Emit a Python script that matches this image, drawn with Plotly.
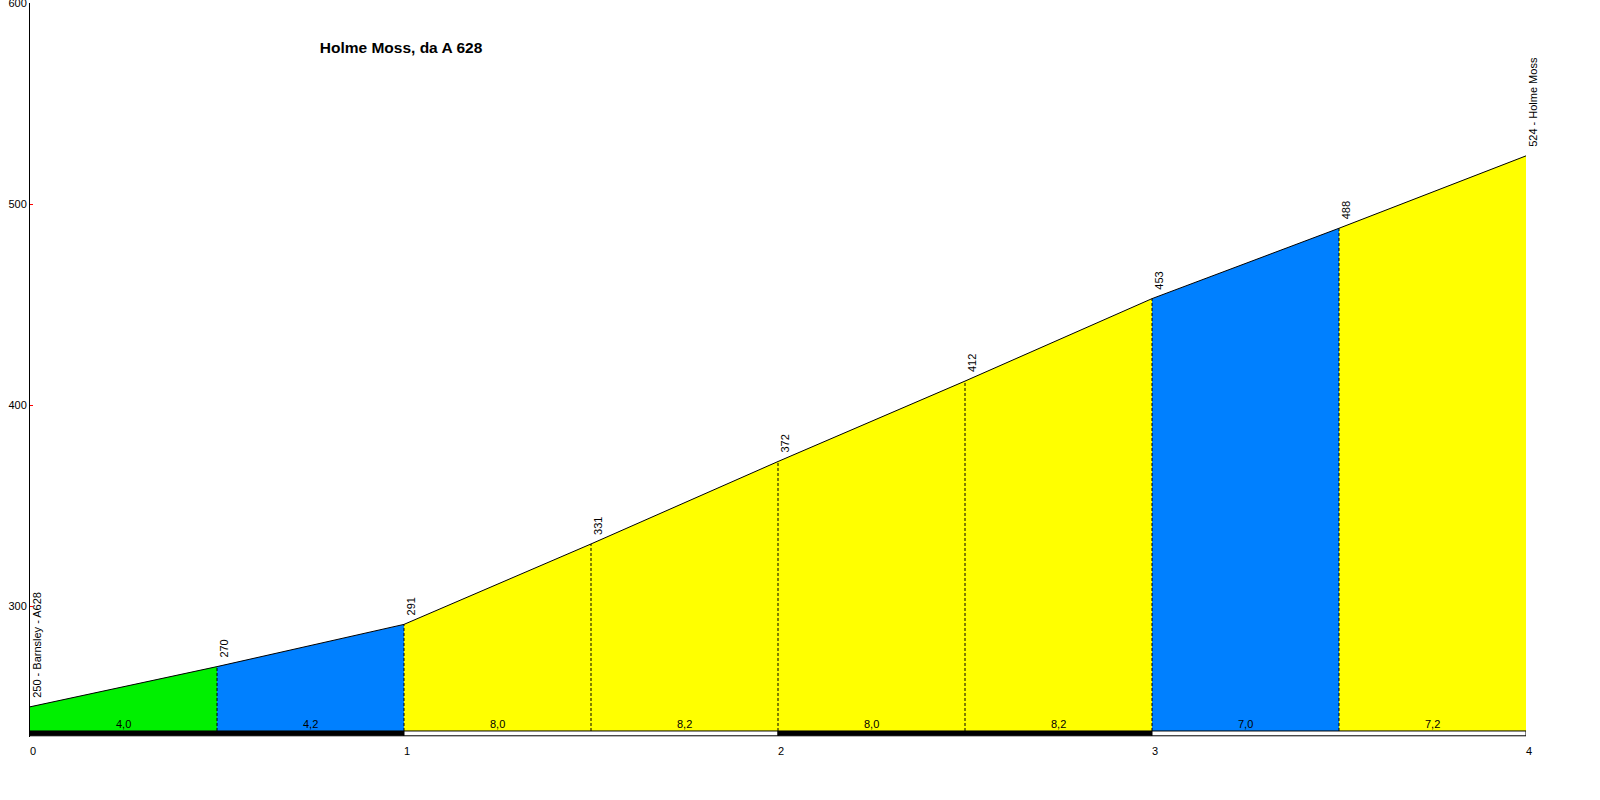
import plotly.graph_objects as go

# ---- data ----
distance_km = [0.0, 0.5, 1.0, 1.5, 2.0, 2.5, 3.0, 3.5, 4.0]
elevation_m = [250, 270, 291, 331, 372, 412, 453, 488, 524]
gradient_pct = [4.0, 4.2, 8.0, 8.2, 8.0, 8.2, 7.0, 7.2]
segment_colors = ["#00f000", "#0080ff", "#ffff00", "#ffff00",
                  "#ffff00", "#ffff00", "#0080ff", "#ffff00"]
point_names = {0: "Barnsley - A628", 8: "Holme Moss"}
km_ticks = [0, 1, 2, 3, 4]
km_bar_colors = ["black", "white", "black", "white"]
y_ticks = [300, 400, 500, 600]
title_text = "Holme Moss, da A 628"

BASE = 238.0
BAR_LOW = 235.6
Y_RANGE = [235.0, 600.02]
FONT = "Liberation Sans, Arial, sans-serif"

fig = go.Figure()

# coloured segments
for i in range(len(gradient_pct)):
    x0, x1 = distance_km[i], distance_km[i + 1]
    e0, e1 = elevation_m[i], elevation_m[i + 1]
    fig.add_trace(go.Scatter(
        x=[x0, x0, x1, x1, x0], y=[BASE, e0, e1, BASE, BASE],
        mode="lines", fill="toself", fillcolor=segment_colors[i],
        line=dict(width=0, color=segment_colors[i]),
        hoverinfo="skip", showlegend=False))

# dashed separators at inner points
for i in range(1, len(distance_km) - 1):
    fig.add_trace(go.Scatter(
        x=[distance_km[i], distance_km[i]], y=[BASE, elevation_m[i]],
        mode="lines", line=dict(color="black", width=1, dash="3px,2px"),
        hoverinfo="skip", showlegend=False))

# profile line
fig.add_trace(go.Scatter(
    x=distance_km, y=elevation_m, mode="lines",
    line=dict(color="black", width=1), hoverinfo="skip", showlegend=False))

# km bar at bottom
for k in range(len(km_ticks) - 1):
    a, b = km_ticks[k], km_ticks[k + 1]
    fig.add_trace(go.Scatter(
        x=[a, a, b, b, a], y=[BAR_LOW, BASE, BASE, BAR_LOW, BAR_LOW],
        mode="lines", fill="toself", fillcolor=km_bar_colors[k],
        line=dict(color="black", width=1), hoverinfo="skip", showlegend=False))

annotations = []
# elevation labels
for i, (d, e) in enumerate(zip(distance_km, elevation_m)):
    txt = f"{e}"
    if i in point_names:
        txt = f"{e} - {point_names[i]}"
    annotations.append(dict(
        x=d, y=e, xref="x", yref="y", text=txt, showarrow=False,
        textangle=-90, xanchor="center", yanchor="bottom",
        xshift=7, yshift=7, font=dict(family=FONT, size=11, color="black")))

# gradient labels
for i, g in enumerate(gradient_pct):
    mid = (distance_km[i] + distance_km[i + 1]) / 2
    annotations.append(dict(
        x=mid, y=BASE, xref="x", yref="y",
        text=f"{g:.1f}".replace(".", ","), showarrow=False,
        xanchor="center", yanchor="bottom", yshift=-1,
        font=dict(family=FONT, size=11, color="black")))

fig.update_layout(
    width=1600, height=800,
    margin=dict(l=30, r=74, t=3, b=63, autoexpand=False),
    paper_bgcolor="white", plot_bgcolor="white",
    title=dict(text=f"<b>{title_text}</b>", x=401 / 1600, xanchor="center",
               xref="container", y=1 - 48 / 800, yanchor="middle",
               yref="container", automargin=False,
               font=dict(family=FONT, size=15.5, color="black")),
    annotations=annotations,
    showlegend=False,
)

fig.update_xaxes(
    range=[0, 4], tickvals=km_ticks, ticktext=[str(k) for k in km_ticks],
    showgrid=False, zeroline=False, showline=False, ticks="",
    ticklabelshift=3, ticklabelstandoff=6, automargin=False,
    ticklabeloverflow="allow",
    tickfont=dict(family=FONT, size=11, color="black"))

fig.update_yaxes(
    range=Y_RANGE, tickvals=y_ticks, showgrid=False, zeroline=False,
    showline=True, linecolor="black", linewidth=1, automargin=False,
    ticks="inside", ticklen=3, tickcolor="red", tickwidth=1,
    ticklabeloverflow="allow",
    tickfont=dict(family=FONT, size=11, color="black"))

fig.write_html(
    "out.html",
    config={"displayModeBar": False},
    post_script="document.body.style.margin='0';"
                "document.body.style.padding='0';"
                "document.body.style.overflow='hidden';")
